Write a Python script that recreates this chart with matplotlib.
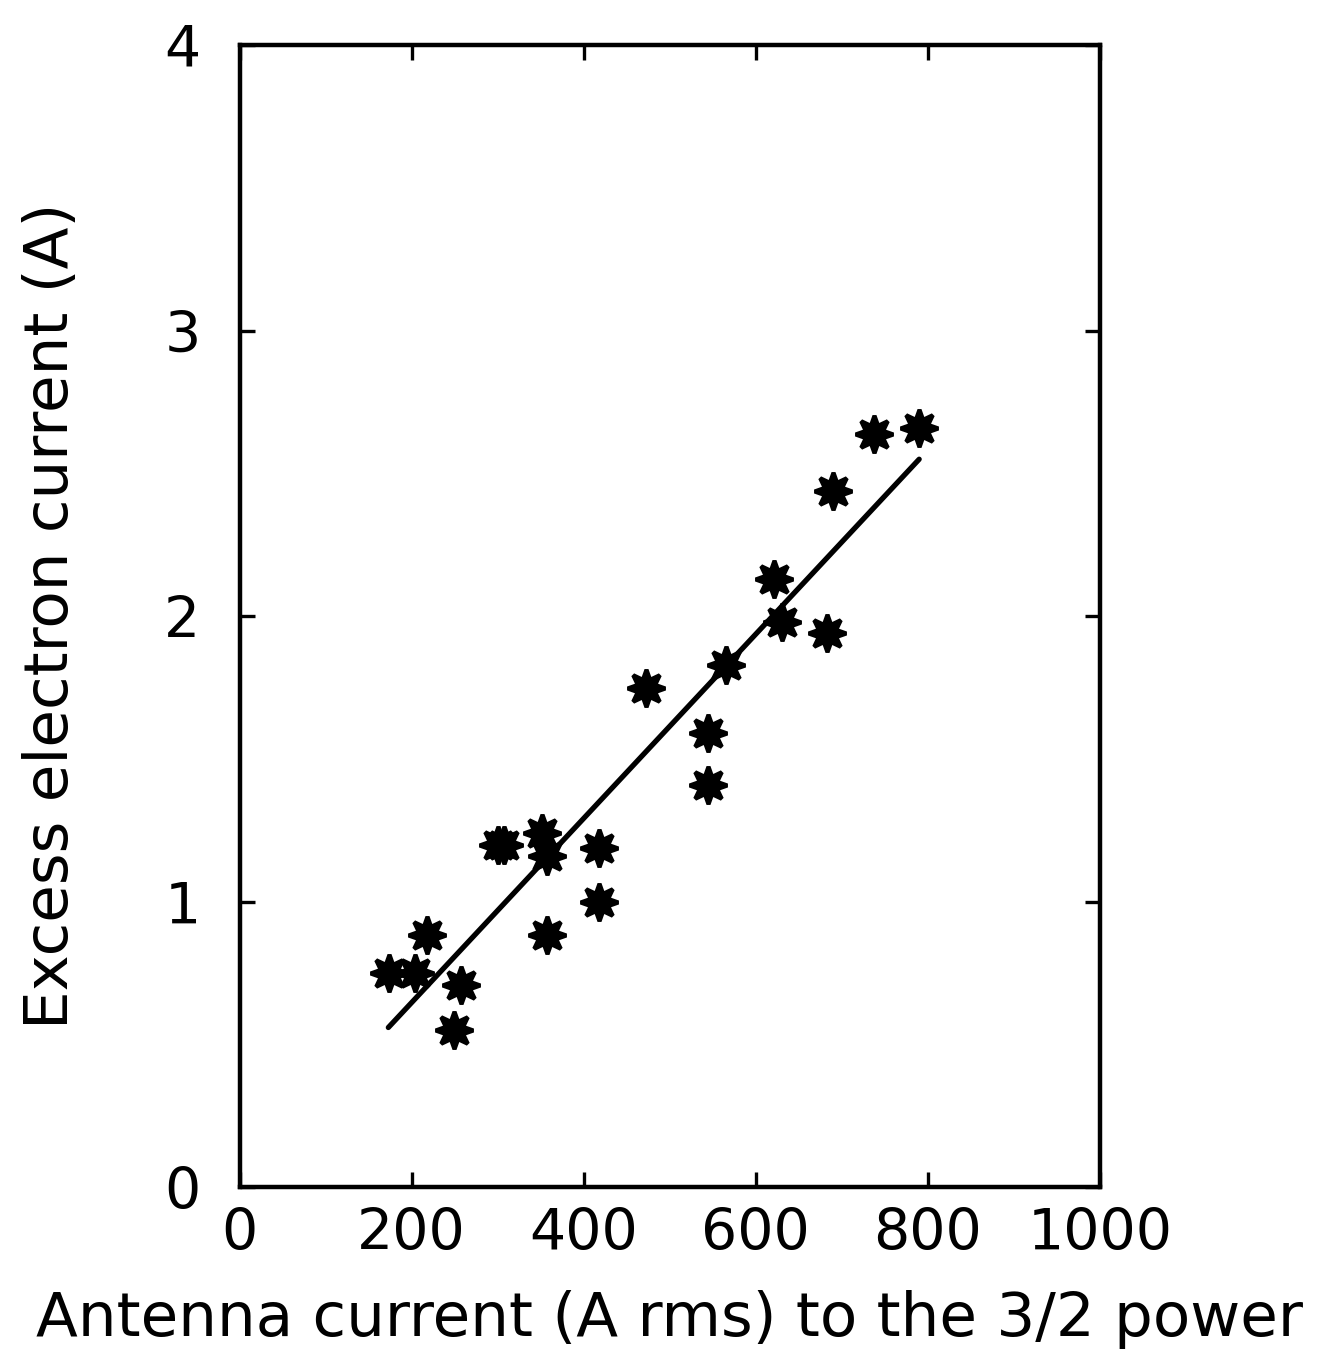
import numpy as np
import matplotlib.pyplot as plt

# antenna current^(3/2) vs excess electron current
antenna_x = [174, 204, 218, 249, 257, 301, 307, 352, 357, 357, 418, 418,
             473, 545, 545, 566, 621, 630, 683, 690, 738, 790]
excess_y = [0.75, 0.75, 0.885, 0.55, 0.71, 1.20, 1.20, 1.24, 1.16, 0.885, 1.19, 1.00,
            1.75, 1.59, 1.41, 1.83, 2.13, 1.98, 1.94, 2.44, 2.64, 2.66]

# fitted line endpoints
fit_x = [173, 790]
fit_y = [0.56, 2.55]

x_ticks = [0, 200, 400, 600, 800, 1000]
y_ticks = [0, 1, 2, 3, 4]

fig = plt.figure(figsize=(13.38, 13.68), dpi=100)
ax = fig.add_axes([0.179, 0.132, 0.643, 0.835])

ax.plot(fit_x, fit_y, color='black', lw=3.8, solid_capstyle='round')
ax.plot(antenna_x, excess_y, ls='none', marker=(8, 1, 0), ms=27,
        color='black', mec='black', mew=3)

ax.set_xlim(0, 1000)
ax.set_ylim(0, 4)
ax.set_xticks(x_ticks)
ax.set_yticks(y_ticks)

for s in ax.spines.values():
    s.set_linewidth(3.2)

ax.tick_params(direction='in', length=11, width=2.4, top=True, right=True,
               labelsize=41, pad=14)
ax.tick_params(axis='y', pad=28)

ax.set_xlabel('Antenna current (A rms) to the 3/2 power', fontsize=44, labelpad=20)
ax.set_ylabel('Excess electron current (A)', fontsize=44, labelpad=60)

fig.savefig('out.png', dpi=100, facecolor='white')
